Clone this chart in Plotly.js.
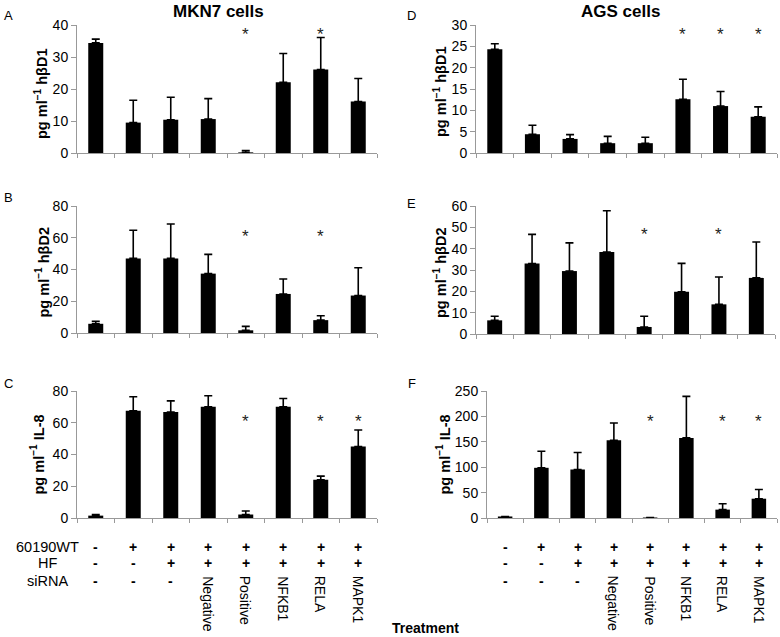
<!DOCTYPE html>
<html>
<head>
<meta charset="utf-8">
<script src="https://cdn.plot.ly/plotly-3.0.1.min.js"></script>
<style>html,body{margin:0;padding:0;background:#fff}#chart{width:780px;height:637px}</style>
</head>
<body>
<div id="chart"></div>
<script>
// ---- data ----
const categories = [0, 1, 2, 3, 4, 5, 6, 7];
const rowWT = ['-', '+', '+', '+', '+', '+', '+', '+'];
const rowHF = ['-', '-', '+', '+', '+', '+', '+', '+'];
const rowSiRNA = ['-', '-', '-', 'Negative', 'Positive', 'NFKB1', 'RELA', 'MAPK1'];

// MKN7 cells
const mknHBD1 = [34.4, 9.5, 10.4, 10.6, 0.2, 22.1, 26.1, 16.1];
const mknHBD1Err = [1.2, 7.0, 7.0, 6.4, 0.6, 9.0, 10.0, 7.2];
const mknHBD1Sig = [0, 0, 0, 0, 1, 0, 1, 0];
const mknHBD2 = [5.8, 47.0, 47.0, 37.4, 1.7, 24.6, 8.1, 23.6];
const mknHBD2Err = [1.5, 17.7, 21.7, 12.1, 2.5, 9.4, 2.8, 17.5];
const mknHBD2Sig = [0, 0, 0, 0, 1, 0, 1, 0];
const mknIL8 = [1.5, 67.6, 66.7, 70.1, 2.2, 70.1, 24.1, 45.0];
const mknIL8Err = [0.7, 8.8, 7.1, 6.9, 2.2, 5.2, 2.3, 10.4];
const mknIL8Sig = [0, 0, 0, 0, 1, 0, 1, 1];

// AGS cells
const agsHBD1 = [24.3, 4.4, 3.3, 2.3, 2.3, 12.6, 11.0, 8.5];
const agsHBD1Err = [1.3, 2.1, 1.0, 1.6, 1.4, 4.7, 3.4, 2.3];
const agsHBD1Sig = [0, 0, 0, 0, 0, 1, 1, 1];
const agsHBD2 = [6.4, 33.0, 29.5, 38.4, 3.3, 19.8, 13.9, 26.3];
const agsHBD2Err = [1.9, 13.7, 13.2, 19.4, 5.0, 13.3, 12.8, 16.8];
const agsHBD2Sig = [0, 0, 0, 0, 1, 0, 1, 0];
const agsIL8 = [3, 98.8, 95.5, 153, 1, 157.7, 16.5, 38];
const agsIL8Err = [0, 32.7, 33.5, 34, 0, 81.8, 11.5, 18];
const agsIL8Sig = [0, 0, 0, 0, 1, 0, 1, 1];

// ---- layout helpers (pixel -> paper) ----
const W = 780, H = 637;
const px = x => x / W;
const py = y => 1 - y / H;

const panels = [
  {ax: '', vals: mknHBD1, err: mknHBD1Err, sig: mknHBD1Sig, x0: 77, x1: 377, yb: 153, yt: 25, max: 40, dt: 10, letter: 'A', lx: 8, ly: 15, title: 'pg ml<sup>−1</sup> hβD1', tx: 41, tyOff: 5, starY: 34},
  {ax: '2', vals: agsHBD1, err: agsHBD1Err, sig: agsHBD1Sig, x0: 476, x1: 777, yb: 153, yt: 25, max: 30, dt: 5, letter: 'D', lx: 411, ly: 15, title: 'pg ml<sup>−1</sup> hβD1', tx: 440, tyOff: 3, starY: 34},
  {ax: '3', vals: mknHBD2, err: mknHBD2Err, sig: mknHBD2Sig, x0: 77, x1: 377, yb: 333, yt: 206, max: 80, dt: 20, letter: 'B', lx: 8, ly: 197, title: 'pg ml<sup>−1</sup> hβD2', tx: 42, tyOff: 3, starY: 236},
  {ax: '4', vals: agsHBD2, err: agsHBD2Err, sig: agsHBD2Sig, x0: 476, x1: 775, yb: 334, yt: 206, max: 60, dt: 10, letter: 'E', lx: 411, ly: 203, title: 'pg ml<sup>−1</sup> hβD2', tx: 440, tyOff: 3, starY: 235},
  {ax: '5', vals: mknIL8, err: mknIL8Err, sig: mknIL8Sig, x0: 77, x1: 377, yb: 518, yt: 391, max: 80, dt: 20, letter: 'C', lx: 8, ly: 383, title: 'pg ml<sup>−1</sup> IL-8', tx: 38, tyOff: 0, starY: 421},
  {ax: '6', vals: agsIL8, err: agsIL8Err, sig: agsIL8Sig, x0: 487, x1: 777, yb: 518, yt: 391, max: 250, dt: 50, letter: 'F', lx: 412, ly: 383, title: 'pg ml<sup>−1</sup> IL-8', tx: 444, tyOff: 0, starY: 421}
];

const FONT = 'Liberation Sans, Arial, sans-serif';
const traces = [];
const layout = {
  width: W, height: H,
  margin: {l: 0, r: 0, t: 0, b: 0},
  paper_bgcolor: '#fff', plot_bgcolor: '#fff',
  showlegend: false,
  font: {family: FONT, color: '#000', size: 12},
  annotations: []
};

panels.forEach(p => {
  traces.push({
    type: 'bar',
    x: categories,
    y: p.vals,
    width: 0.4,
    marker: {color: '#000', line: {width: 0}},
    error_y: {type: 'data', array: p.err, arrayminus: p.err.map(() => 0), symmetric: false,
              color: '#000', thickness: 1.6, width: 4},
    xaxis: 'x' + p.ax, yaxis: 'y' + p.ax,
    hoverinfo: 'none'
  });
  layout['xaxis' + p.ax] = {
    domain: [px(p.x0), px(p.x1)], anchor: 'y' + p.ax,
    range: [-0.5, 7.5], showgrid: false, zeroline: false,
    showline: true, linecolor: '#999', linewidth: 1,
    tickmode: 'linear', tick0: -0.5, dtick: 1, showticklabels: false,
    ticks: 'outside', ticklen: 4, tickcolor: '#999', fixedrange: true
  };
  layout['yaxis' + p.ax] = {
    domain: [py(p.yb), py(p.yt)], anchor: 'x' + p.ax,
    range: [0, p.max], dtick: p.dt, tick0: 0, showgrid: false, zeroline: false,
    showline: true, linecolor: '#999', linewidth: 1,
    ticks: 'outside', ticklen: 5, tickcolor: '#999',
    tickfont: {family: FONT, size: 14, color: '#000'}, fixedrange: true
  };
  layout.annotations.push({
    xref: 'paper', yref: 'paper', x: px(p.lx), y: py(p.ly), text: p.letter,
    showarrow: false, xanchor: 'center', yanchor: 'middle', font: {size: 13, family: FONT}
  });
  layout.annotations.push({
    xref: 'paper', yref: 'paper', x: px(p.tx), y: py((p.yb + p.yt) / 2 + p.tyOff), text: '<b>' + p.title + '</b>',
    textangle: -90, showarrow: false, xanchor: 'center', yanchor: 'middle', font: {size: 14.5, family: FONT}
  });
  p.sig.forEach((s, i) => {
    if (s) layout.annotations.push({
      xref: 'x' + p.ax, yref: 'paper', x: categories[i], y: py(p.starY), text: '*',
      showarrow: false, xanchor: 'center', yanchor: 'middle', font: {size: 17, family: FONT, color: '#222'}
    });
  });
});

// titles
layout.annotations.push({xref: 'paper', yref: 'paper', x: px(218), y: py(11), text: '<b>MKN7 cells</b>',
  showarrow: false, xanchor: 'center', yanchor: 'middle', font: {size: 17, family: FONT}});
layout.annotations.push({xref: 'paper', yref: 'paper', x: px(620), y: py(11), text: '<b>AGS cells</b>',
  showarrow: false, xanchor: 'center', yanchor: 'middle', font: {size: 17, family: FONT}});

// treatment table
const rowLabels = ['60190WT', 'HF', 'siRNA'];
const rowY = [547, 563, 581];
rowLabels.forEach((t, r) => {
  layout.annotations.push({xref: 'paper', yref: 'paper', x: px(47), y: py(rowY[r]), text: t,
    showarrow: false, xanchor: 'center', yanchor: 'middle', font: {size: 14.5, family: FONT}});
});
['5', '6'].forEach(ax => {
  categories.forEach((c, i) => {
    [rowWT, rowHF].forEach((row, r) => {
      layout.annotations.push({xref: 'x' + ax, yref: 'paper', x: c, y: py(rowY[r]), text: '<b>' + row[i] + '</b>',
        showarrow: false, xanchor: 'center', yanchor: 'middle', font: {size: 14, family: FONT}});
    });
    const s = rowSiRNA[i];
    if (s === '-') {
      layout.annotations.push({xref: 'x' + ax, yref: 'paper', x: c, y: py(rowY[2]), text: '<b>-</b>',
        showarrow: false, xanchor: 'center', yanchor: 'middle', font: {size: 14, family: FONT}});
    } else {
      layout.annotations.push({xref: 'x' + ax, yref: 'paper', x: c, y: py(574), text: s,
        textangle: 90, showarrow: false, xanchor: 'center', yanchor: 'top', font: {size: 14, family: FONT}});
    }
  });
});
layout.annotations.push({xref: 'paper', yref: 'paper', x: px(426), y: py(628), text: '<b>Treatment</b>',
  showarrow: false, xanchor: 'center', yanchor: 'middle', font: {size: 14, family: FONT}});

Plotly.newPlot('chart', traces, layout, {staticPlot: true, displayModeBar: false});
</script>
</body>
</html>
